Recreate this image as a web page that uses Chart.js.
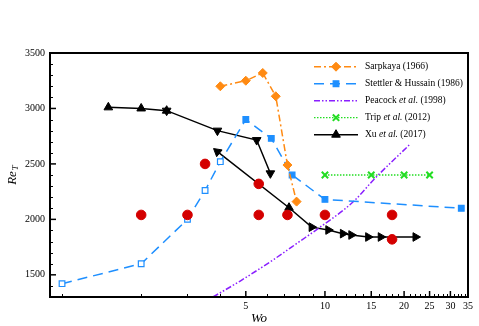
<!DOCTYPE html>
<html>
<head>
<meta charset="utf-8">
<script src="https://cdn.jsdelivr.net/npm/chart.js@4.4.0/dist/chart.umd.min.js"></script>
<style>
  html, body { margin: 0; padding: 0; background: #fff; }
</style>
</head>
<body>
<canvas id="chart" width="479" height="326"></canvas>
<script>
// ---- data ----
const sarpkayaWo = [4, 5, 5.8, 6.5, 7.2, 7.8];
const sarpkayaRe = [3200, 3250, 3320, 3110, 2490, 2160];

const stettlerWo = [1, 2, 3, 3.5, 4, 5, 6.25, 7.5, 10, 33];
const stettlerRe = [1420, 1600, 2000, 2260, 2520, 2900, 2730, 2400, 2180, 2100];

const peacockWo = [3.75, 4.76, 6.4, 8.06, 9.33, 12.9, 15.35, 20.9];
const peacockRe = [1300, 1444, 1640, 1805, 1910, 2165, 2360, 2670];

const tripWo = [10, 15, 20, 25];
const tripRe = [2400, 2400, 2400, 2400];

// null breaks the line into its two branches
const xuWo = [1.5, 2, 2.5, 2.5, 3.9, 5.5, 6.2, 6.2, 3.9, 7.3, 8.9, 10.3, 11.7, 12.6, 14.6, 16.3, 22.1];
const xuRe = [3010, 3000, 2980, 2980, 2800, 2715, 2415, null, 2610, 2105, 1930, 1904, 1871, 1859, 1841, 1841, 1841];

const presentWo = [2, 3, 3.5, 5.6, 5.6, 7.2, 10, 18, 18];
const presentRe = [2040, 2040, 2500, 2320, 2040, 2040, 2040, 2040, 1820];

const xTickValues = [5, 10, 15, 20, 25, 30, 35];
const xMinorTicks = [1, 2, 3, 4, 6, 7, 8, 9, 11, 12, 13, 14, 16, 17, 18, 19, 21, 22, 23, 24, 26, 27, 28, 29, 31, 32, 33, 34];
const yTickValues = [1500, 2000, 2500, 3000, 3500];

const SERIF = '"Liberation Serif", "Times New Roman", serif';
const pts = (xs, ys) => xs.map((x, i) => ({ x: x, y: ys[i] }));

const BLUE = '#1e8fff';
const ORANGE = '#ff8a12';

// ---- frame, inward ticks, axis titles, legend ----
const decorations = {
    id: 'decorations',
    afterDraw(chart) {
        const { ctx, chartArea: a, scales: { x, y } } = chart;
        ctx.save();
        ctx.strokeStyle = '#000';

        // x ticks
        ctx.lineWidth = 1;
        xMinorTicks.forEach(v => {
            const px = Math.round(x.getPixelForValue(v)) + 0.5;
            ctx.beginPath(); ctx.moveTo(px, a.bottom); ctx.lineTo(px, a.bottom - 3); ctx.stroke();
        });
        ctx.lineWidth = 1.5;
        xTickValues.forEach(v => {
            const px = x.getPixelForValue(v);
            ctx.beginPath(); ctx.moveTo(px, a.bottom); ctx.lineTo(px, a.bottom - 6); ctx.stroke();
        });

        // y ticks
        ctx.lineWidth = 1;
        for (let v = 1400; v < 3500; v += 100) {
            if (v % 500 === 0) continue;
            const py = Math.round(y.getPixelForValue(v)) + 0.5;
            ctx.beginPath(); ctx.moveTo(a.left, py); ctx.lineTo(a.left + 3, py); ctx.stroke();
        }
        ctx.lineWidth = 1.5;
        yTickValues.forEach(v => {
            const py = y.getPixelForValue(v);
            ctx.beginPath(); ctx.moveTo(a.left, py); ctx.lineTo(a.left + 6, py); ctx.stroke();
        });

        // frame
        ctx.lineWidth = 2;
        ctx.strokeRect(a.left, a.top, a.right - a.left, a.bottom - a.top);

        // axis titles
        ctx.fillStyle = '#000';
        ctx.textAlign = 'center';
        ctx.textBaseline = 'middle';
        ctx.font = 'italic 13px ' + SERIF;
        ctx.fillText('Wo', (a.left + a.right) / 2, 319);

        ctx.save();
        ctx.translate(13, (a.top + a.bottom) / 2);
        ctx.rotate(-Math.PI / 2);
        ctx.font = 'italic 13px ' + SERIF;
        const reW = ctx.measureText('Re').width;
        ctx.textAlign = 'left';
        ctx.fillText('Re', -reW / 2 - 3, 0);
        ctx.font = 'italic 9px ' + SERIF;
        ctx.fillText('T', reW / 2 - 2, 3);
        ctx.restore();

        // legend
        let ly = 66.7;
        ctx.textAlign = 'left';
        chart.data.datasets.forEach(ds => {
            if (!ds.label) return;
            ctx.strokeStyle = ds.borderColor;
            ctx.lineWidth = ds.borderWidth;
            ctx.setLineDash(ds.borderDash || []);
            ctx.beginPath(); ctx.moveTo(314, ly); ctx.lineTo(358, ly); ctx.stroke();
            ctx.setLineDash([]);
            if (ds.pointRadius) {
                ctx.fillStyle = ds.borderColor;
                ctx.lineWidth = ds.pointBorderWidth || 1;
                Chart.helpers.drawPoint(ctx, {
                    pointStyle: ds.pointStyle, radius: ds.pointRadius, rotation: 0,
                    borderWidth: ds.pointBorderWidth || 1
                }, 336, ly);
            }
            ctx.fillStyle = '#000';
            const parts = ds.label.split('et al.');
            let tx = 365;
            parts.forEach((p, i) => {
                if (i > 0) {
                    ctx.font = 'italic 9.5px ' + SERIF;
                    ctx.fillText('et al.', tx, ly);
                    tx += ctx.measureText('et al.').width;
                }
                ctx.font = '9.5px ' + SERIF;
                ctx.fillText(p, tx, ly);
                tx += ctx.measureText(p).width;
            });
            ly += 17;
        });
        ctx.restore();
    }
};

new Chart(document.getElementById('chart'), {
    type: 'line',
    data: {
        datasets: [{
            label: '',
            data: pts(presentWo, presentRe),
            showLine: false,
            pointStyle: 'circle',
            pointRadius: 4.8,
            pointBackgroundColor: '#d40000',
            pointBorderColor: '#d40000',
            borderColor: '#d40000'
        }, {
            label: 'Sarpkaya (1966)',
            data: pts(sarpkayaWo, sarpkayaRe),
            borderColor: ORANGE,
            borderWidth: 1.5,
            borderDash: [7, 3, 2, 3],
            pointStyle: 'rectRot',
            pointRadius: 4.5,
            pointBackgroundColor: ORANGE,
            pointBorderColor: ORANGE,
            pointBorderWidth: 1
        }, {
            label: 'Stettler & Hussain (1986)',
            data: pts(stettlerWo, stettlerRe),
            borderColor: BLUE,
            borderWidth: 1.5,
            borderDash: [10, 6],
            pointStyle: 'rect',
            pointRadius: 4,
            pointBackgroundColor: c => c.dataIndex < 5 ? '#fff' : BLUE,
            pointBorderColor: BLUE,
            pointBorderWidth: 1.2
        }, {
            label: 'Peacock et al. (1998)',
            data: pts(peacockWo, peacockRe),
            borderColor: '#8a1fff',
            borderWidth: 1.5,
            borderDash: [6, 2, 1.5, 2, 1.5, 2],
            cubicInterpolationMode: 'monotone',
            pointRadius: 0
        }, {
            label: 'Trip et al. (2012)',
            data: pts(tripWo, tripRe),
            borderColor: '#22dd22',
            borderWidth: 1.3,
            borderDash: [1.5, 1.5],
            pointStyle: 'crossRot',
            pointRadius: 4.5,
            pointBorderColor: '#22dd22',
            pointBorderWidth: 2
        }, {
            label: 'Xu et al. (2017)',
            data: pts(xuWo, xuRe),
            borderColor: '#000',
            borderWidth: 1.5,
            spanGaps: false,
            pointStyle: 'triangle',
            pointRadius: 5,
            pointRotation: [0, 0, 0, 180, 180, 180, 180, 0, -51, 0, 90, 90, 90, 90, 90, 90, 90],
            pointBackgroundColor: '#000',
            pointBorderColor: '#000',
            pointBorderWidth: 1
        }]
    },
    options: {
        responsive: false,
        animation: false,
        layout: { padding: { top: 53, right: 11, left: 0, bottom: 0 } },
        plugins: {
            legend: { display: false },
            tooltip: { enabled: false }
        },
        scales: {
            x: {
                type: 'logarithmic',
                min: 0.9,
                max: 35,
                afterBuildTicks: s => { s.ticks = xTickValues.map(v => ({ value: v })); },
                afterFit: s => { s.height = 29; },
                ticks: {
                    autoSkip: false,
                    maxRotation: 0,
                    padding: 3,
                    color: '#000',
                    font: { family: SERIF, size: 10 },
                    callback: v => String(v)
                },
                grid: { display: false, drawTicks: false },
                border: { display: false }
            },
            y: {
                type: 'linear',
                min: 1300,
                max: 3500,
                afterBuildTicks: s => { s.ticks = yTickValues.map(v => ({ value: v })); },
                afterFit: s => { s.width = 50; },
                ticks: {
                    padding: 5,
                    color: '#000',
                    font: { family: SERIF, size: 10 },
                    callback: v => String(v)
                },
                grid: { display: false, drawTicks: false },
                border: { display: false }
            }
        }
    },
    plugins: [decorations]
});
</script>
</body>
</html>
